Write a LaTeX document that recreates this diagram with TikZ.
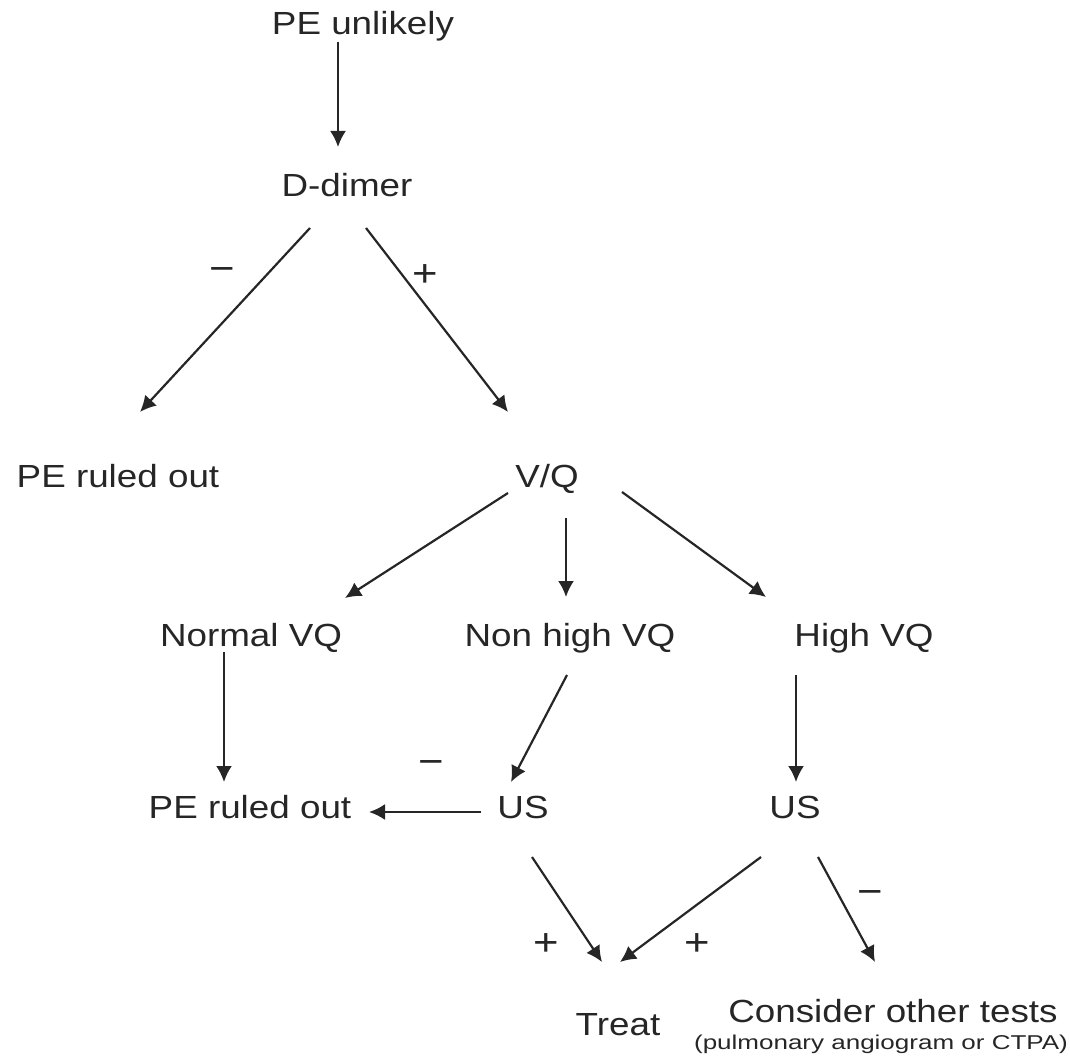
\documentclass[tikz,border=0pt]{standalone}
\usepackage{fontspec}
\setmainfont[FakeStretch=1.15]{Liberation Sans}
\newfontfamily\notefont[FakeStretch=1.3]{Liberation Sans}
\usetikzlibrary{calc,arrows.meta}
\tikzset{
    box/.style={anchor=base, inner sep=0pt, text=black!85, font=\fontsize{16}{19}\selectfont},
    note/.style={anchor=center, inner sep=0pt, text=black!85, font=\fontsize{19}{22}\selectfont},
    arr/.style={line width=1.1pt, draw=black!85, -{Latex[length=8pt,width=8pt]}}
}
\begin{document}
\begin{tikzpicture}[x=0.5pt, y=-0.5pt]
    \useasboundingbox (0,0) rectangle (1070,1059);
    % nodes
    \node[box] (unlikely) at (363,35) {PE unlikely};
    \node[box] (ddimer) at (347,197) {D-dimer};
    \node[box] (out1) at (118,487) {PE ruled out};
    \node[box] (vq) at (547,487) {V/Q};
    \node[box] (normal) at (251,646) {Normal VQ};
    \node[box] (nonhigh) at (570,646) {Non high VQ};
    \node[box] (high) at (864,646) {High VQ};
    \node[box] (out2) at (250,818) {PE ruled out};
    \node[box] (usl) at (523,818) {US};
    \node[box] (usr) at (795,818) {US};
    \node[box] (treat) at (618,1035) {Treat};
    \node[box] (consider) at (893,1022) {Consider other tests};
    \node[anchor=base, inner sep=0pt, text=black!85, font=\notefont\fontsize{10}{12}\selectfont] (ctpa) at (881,1049) {(pulmonary angiogram or CTPA)};
    % signs
    \node[note] (m1) at (222,275) {−};
    \node[note] (p1) at (425,276) {+};
    \node[note] (m2) at (431,767) {−};
    \node[note] (p2) at (546,945) {+};
    \node[note] (p3) at (697,945) {+};
    \node[note] (m3) at (870,897) {−};
    % arrows
    \draw[arr] ($(unlikely.base)+(-25,7)$) -- ($(ddimer.base)+(-9,-50)$);
    \draw[arr] ($(ddimer.base)+(-37,31)$) -- ($(out1.base)+(22,-75)$);
    \draw[arr] ($(ddimer.base)+(19,31)$) -- ($(vq.base)+(-39,-75)$);
    \draw[arr] ($(vq.base)+(-39,6)$) -- ($(normal.base)+(94,-48)$);
    \draw[arr] ($(vq.base)+(19,31)$) -- ($(nonhigh.base)+(-4,-49)$);
    \draw[arr] ($(vq.base)+(75,5)$) -- ($(high.base)+(-98,-49)$);
    \draw[arr] ($(normal.base)+(-27,6)$) -- ($(out2.base)+(-26,-36)$);
    \draw[arr] ($(nonhigh.base)+(-3,29)$) -- ($(usl.base)+(-12,-36)$);
    \draw[arr] ($(high.base)+(-68,29)$) -- ($(usr.base)+(1,-36)$);
    \draw[arr] ($(usl.base)+(-42,-6)$) -- ($(out2.base)+(119,-6)$);
    \draw[arr] ($(usl.base)+(9,39)$) -- ($(treat.base)+(-16,-73)$);
    \draw[arr] ($(usr.base)+(-34,39)$) -- ($(treat.base)+(2,-73)$);
    \draw[arr] ($(usr.base)+(23,39)$) -- ($(consider.base)+(-18,-60)$);
\end{tikzpicture}
\end{document}
